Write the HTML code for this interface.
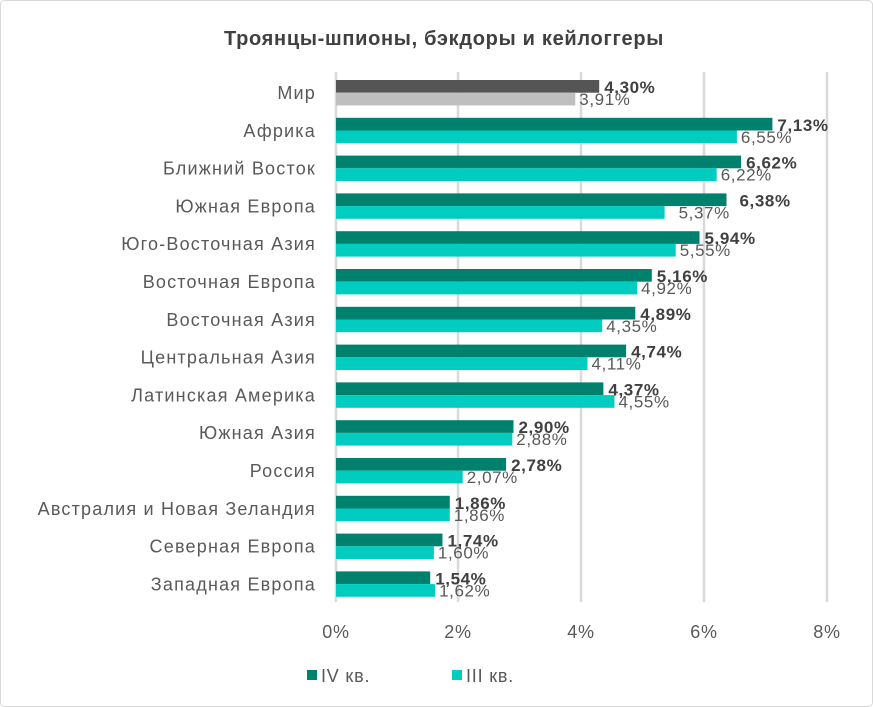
<!DOCTYPE html><html><head><meta charset="utf-8"><style>body{margin:0;background:#fff}svg{display:block;font-family:"Liberation Sans",sans-serif}.l{font-size:18px;letter-spacing:1.2px;fill:#595959;text-anchor:end}.b{font-size:17px;letter-spacing:0.6px;font-weight:bold;fill:#404040}.n{font-size:17px;letter-spacing:0.6px;fill:#595959}</style></head><body>
<svg width="873" height="707" viewBox="0 0 873 707">
<rect x="0.5" y="0.5" width="872" height="706" rx="4" fill="#fff" stroke="#d9d9d9"/>
<text x="444" y="45" text-anchor="middle" font-size="20" letter-spacing="0.7" font-weight="bold" fill="#404040">Троянцы-шпионы, бэкдоры и кейлоггеры</text>
<g stroke="#d9d9d9" stroke-width="2.5">
<line x1="336" y1="72" x2="336" y2="602"/><line x1="458" y1="72" x2="458" y2="602"/><line x1="581" y1="72" x2="581" y2="602"/><line x1="704" y1="72" x2="704" y2="602"/><line x1="827" y1="72" x2="827" y2="602"/></g>
<g font-size="18" letter-spacing="0.8" fill="#595959" text-anchor="middle">
<text x="336" y="638">0%</text><text x="458" y="638">2%</text><text x="581" y="638">4%</text><text x="704" y="638">6%</text><text x="827" y="638">8%</text></g>

<g transform="translate(0,80)"><rect x="336" y="0" width="263.2" height="12.7" fill="#555"/><rect x="336" y="12.7" width="239.3" height="12.7" fill="#bfbfbf"/><text class="l" x="316" y="19">Мир</text><text class="b" x="604.2" y="13">4,30%</text><text class="n" x="579.3" y="25">3,91%</text></g>
<g transform="translate(0,117.8)"><rect x="336" y="0" width="436.4" height="12.7" fill="#00816d"/><rect x="336" y="12.7" width="400.9" height="12.7" fill="#00ccc0"/><text class="l" x="316" y="19">Африка</text><text class="b" x="777.4" y="13">7,13%</text><text class="n" x="740.9" y="25">6,55%</text></g>
<g transform="translate(0,155.6)"><rect x="336" y="0" width="405.1" height="12.7" fill="#00816d"/><rect x="336" y="12.7" width="380.7" height="12.7" fill="#00ccc0"/><text class="l" x="316" y="19">Ближний Восток</text><text class="b" x="746.1" y="13">6,62%</text><text class="n" x="720.7" y="25">6,22%</text></g>
<g transform="translate(0,193.4)"><rect x="336" y="0" width="390.5" height="12.7" fill="#00816d"/><rect x="336" y="12.7" width="328.6" height="12.7" fill="#00ccc0"/><text class="l" x="316" y="19">Южная Европа</text><text class="b" x="739.5" y="13">6,38%</text><text class="n" x="678.6" y="25">5,37%</text></g>
<g transform="translate(0,231.2)"><rect x="336" y="0" width="363.5" height="12.7" fill="#00816d"/><rect x="336" y="12.7" width="339.7" height="12.7" fill="#00ccc0"/><text class="l" x="316" y="19">Юго-Восточная Азия</text><text class="b" x="704.5" y="13">5,94%</text><text class="n" x="679.7" y="25">5,55%</text></g>
<g transform="translate(0,269)"><rect x="336" y="0" width="315.8" height="12.7" fill="#00816d"/><rect x="336" y="12.7" width="301.1" height="12.7" fill="#00ccc0"/><text class="l" x="316" y="19">Восточная Европа</text><text class="b" x="656.8" y="13">5,16%</text><text class="n" x="641.1" y="25">4,92%</text></g>
<g transform="translate(0,306.8)"><rect x="336" y="0" width="299.3" height="12.7" fill="#00816d"/><rect x="336" y="12.7" width="266.2" height="12.7" fill="#00ccc0"/><text class="l" x="316" y="19">Восточная Азия</text><text class="b" x="640.3" y="13">4,89%</text><text class="n" x="606.2" y="25">4,35%</text></g>
<g transform="translate(0,344.6)"><rect x="336" y="0" width="290.1" height="12.7" fill="#00816d"/><rect x="336" y="12.7" width="251.5" height="12.7" fill="#00ccc0"/><text class="l" x="316" y="19">Центральная Азия</text><text class="b" x="631.1" y="13">4,74%</text><text class="n" x="591.5" y="25">4,11%</text></g>
<g transform="translate(0,382.4)"><rect x="336" y="0" width="267.4" height="12.7" fill="#00816d"/><rect x="336" y="12.7" width="278.5" height="12.7" fill="#00ccc0"/><text class="l" x="316" y="19">Латинская Америка</text><text class="b" x="608.4" y="13">4,37%</text><text class="n" x="618.5" y="25">4,55%</text></g>
<g transform="translate(0,420.2)"><rect x="336" y="0" width="177.5" height="12.7" fill="#00816d"/><rect x="336" y="12.7" width="176.3" height="12.7" fill="#00ccc0"/><text class="l" x="316" y="19">Южная Азия</text><text class="b" x="518.5" y="13">2,90%</text><text class="n" x="516.3" y="25">2,88%</text></g>
<g transform="translate(0,458)"><rect x="336" y="0" width="170.1" height="12.7" fill="#00816d"/><rect x="336" y="12.7" width="126.7" height="12.7" fill="#00ccc0"/><text class="l" x="316" y="19">Россия</text><text class="b" x="511.1" y="13">2,78%</text><text class="n" x="466.7" y="25">2,07%</text></g>
<g transform="translate(0,495.8)"><rect x="336" y="0" width="113.8" height="12.7" fill="#00816d"/><rect x="336" y="12.7" width="113.8" height="12.7" fill="#00ccc0"/><text class="l" x="316" y="19">Австралия и Новая Зеландия</text><text class="b" x="454.8" y="13">1,86%</text><text class="n" x="453.8" y="25">1,86%</text></g>
<g transform="translate(0,533.6)"><rect x="336" y="0" width="106.5" height="12.7" fill="#00816d"/><rect x="336" y="12.7" width="97.9" height="12.7" fill="#00ccc0"/><text class="l" x="316" y="19">Северная Европа</text><text class="b" x="447.5" y="13">1,74%</text><text class="n" x="437.9" y="25">1,60%</text></g>
<g transform="translate(0,571.4)"><rect x="336" y="0" width="94.2" height="12.7" fill="#00816d"/><rect x="336" y="12.7" width="99.1" height="12.7" fill="#00ccc0"/><text class="l" x="316" y="19">Западная Европа</text><text class="b" x="435.2" y="13">1,54%</text><text class="n" x="439.1" y="25">1,62%</text></g>

<rect x="307" y="670" width="10" height="10" fill="#00816d"/><text x="321" y="682" font-size="18" letter-spacing="0.8" fill="#595959">IV кв.</text>
<rect x="452" y="670" width="10" height="10" fill="#00ccc0"/><text x="466" y="682" font-size="18" letter-spacing="0.8" fill="#595959">III кв.</text>
</svg></body></html>
